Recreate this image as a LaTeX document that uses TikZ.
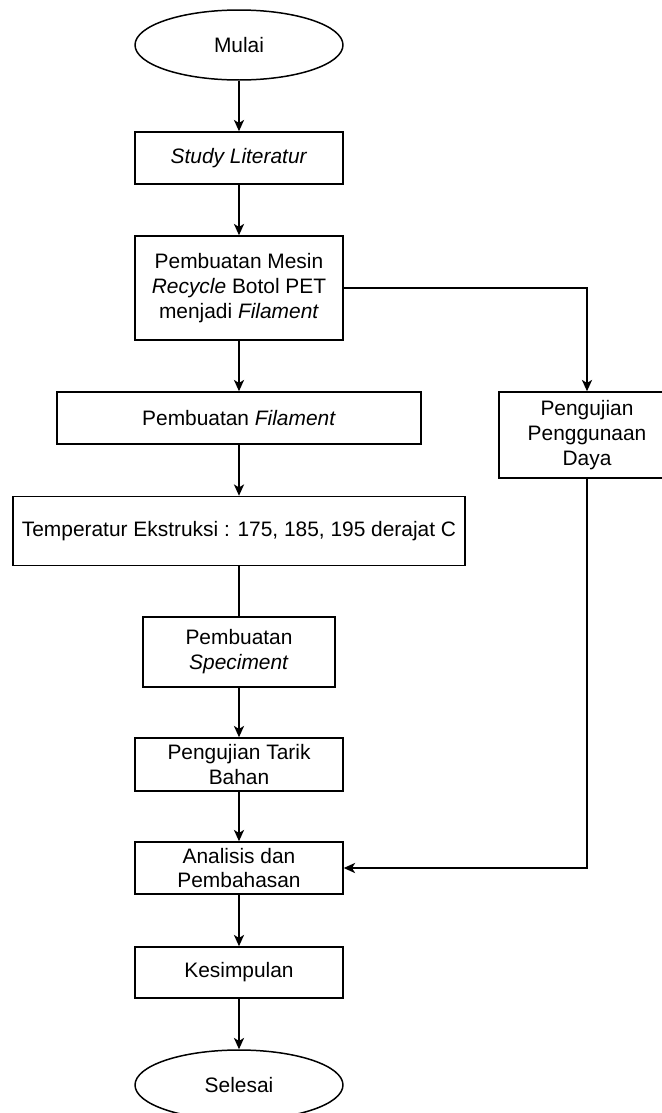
\documentclass[tikz,border=0pt]{standalone}
\usepackage{fontspec}
\setmainfont{Liberation Sans}
\usetikzlibrary{shapes.geometric,arrows.meta}

\begin{document}
\begin{tikzpicture}[x=0.02cm, y=-0.02cm,
		every node/.style={font=\fontsize{11.9}{14.2}\selectfont, align=center, inner sep=0pt},
		box/.style={draw, rectangle, line width=0.85pt},
		terminal/.style={draw, ellipse, line width=0.85pt, minimum width=4.16cm, minimum height=1.4cm},
		flow/.style={line width=0.85pt, -{Stealth[length=6.5pt, width=5.8pt, inset=1.8pt]}},
		plain/.style={line width=0.85pt}]
		\useasboundingbox (0, 0) rectangle (662, 1113);
		% main column
		\node [terminal] (mulai) at (239, 45) {Mulai};
		\node [box, minimum width=4.16cm, minimum height=1.04cm] (study) at (239, 158) {\textit{Study Literatur}};
		\node [box, minimum width=4.16cm, minimum height=2.08cm] (mesin) at (239, 288) {Pembuatan Mesin\\\textit{Recycle} Botol PET\\menjadi \textit{Filament}};
		\node [box, minimum width=7.28cm, minimum height=1.04cm] (filament) at (239, 418) {Pembuatan \textit{Filament}};
		\node [box, minimum width=9.04cm, minimum height=1.38cm] (suhu) at (239, 531) {Temperatur Ekstruksi : 175, 185, 195 derajat C};
		\node [box, minimum width=3.84cm, minimum height=1.4cm] (spesimen) at (239, 652) {Pembuatan\\\textit{Speciment}};
		\node [box, minimum width=4.16cm, minimum height=1.06cm] (tarik) at (239, 764.5) {Pengujian Tarik\\Bahan};
		\node [box, minimum width=4.16cm, minimum height=1.04cm] (analisis) at (239, 868) {Analisis dan\\Pembahasan};
		\node [box, minimum width=4.16cm, minimum height=1.02cm] (simpul) at (239, 972.5) {Kesimpulan};
		\node [terminal] (selesai) at (239, 1085) {Selesai};
		% right branch
		\node [box, minimum width=3.52cm, minimum height=1.72cm] (daya) at (587, 435) {Pengujian\\Penggunaan\\Daya};

		\draw [flow] (mulai) -- (study);
		\draw [flow] (study) -- (mesin);
		\draw [flow] (mesin) -- (filament);
		\draw [flow] (filament) -- (suhu);
		\draw [plain] (suhu) -- (spesimen);
		\draw [flow] (spesimen) -- (tarik);
		\draw [flow] (tarik) -- (analisis);
		\draw [flow] (analisis) -- (simpul);
		\draw [flow] (simpul) -- (selesai);
		\draw [flow] (mesin.east) -| (daya.north);
		\draw [flow] (daya.south) |- (analisis.east);
	\end{tikzpicture}
\end{document}
